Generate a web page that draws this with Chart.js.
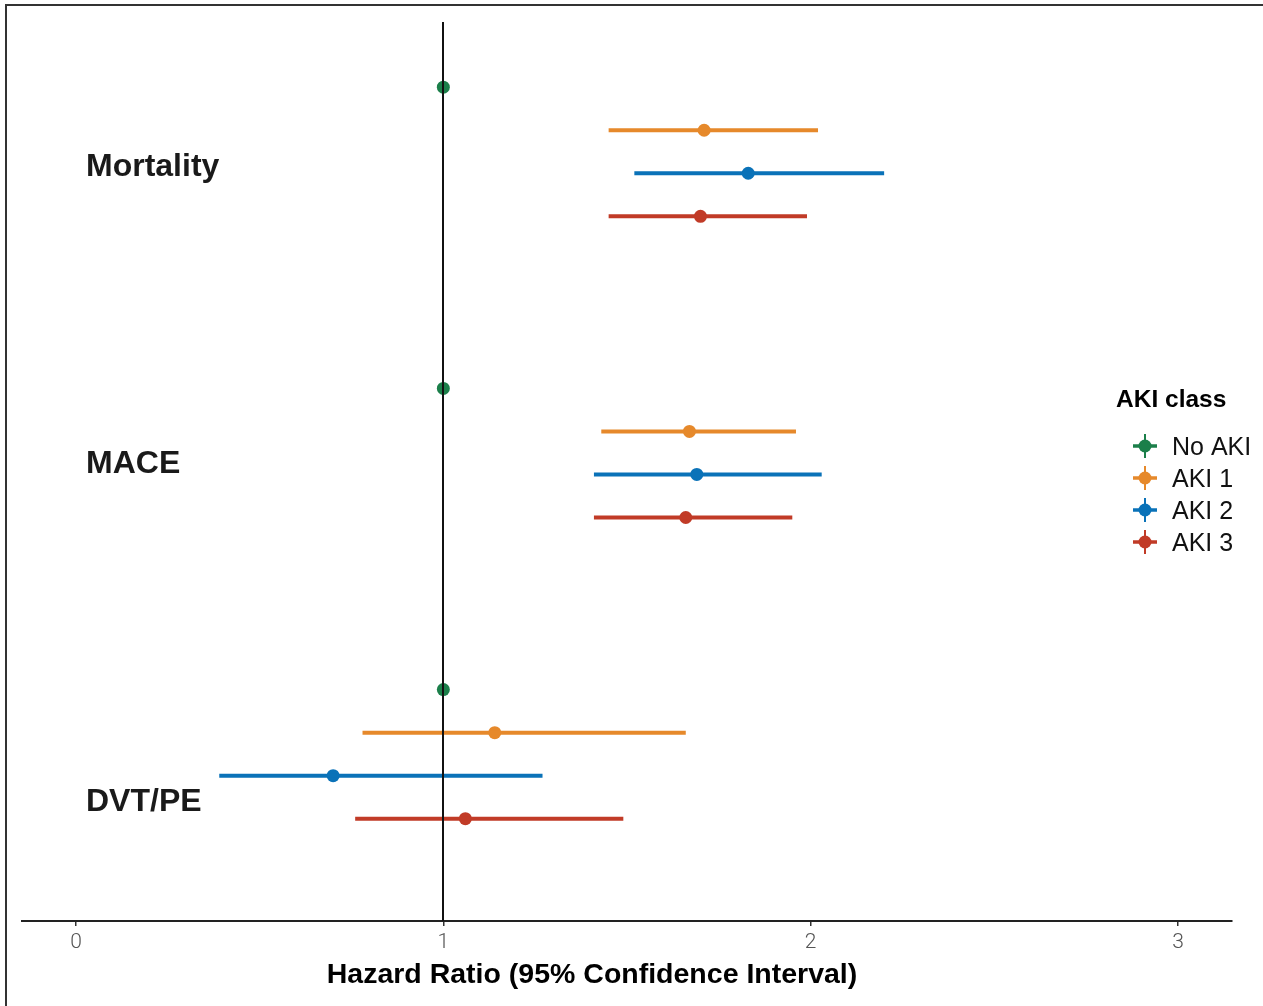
<!DOCTYPE html>
<html>
<head>
<meta charset="utf-8">
<script src="https://cdn.jsdelivr.net/npm/chart.js@4/dist/chart.umd.min.js"></script>
<style>
  html, body { margin: 0; padding: 0; background: #fff; overflow: hidden; }
  #wrap { position: relative; width: 1263px; height: 1006px; }
  #frame {
    position: absolute; left: 5px; top: 4px; width: 1300px; height: 1100px;
    border: 2px solid #333; pointer-events: none;
  }
</style>
</head>
<body>
<div id="wrap">
  <canvas id="forest" width="1263" height="1006"></canvas>
  <div id="frame"></div>
</div>
<script>
const outcomes = ["Mortality", "MACE", "DVT/PE"];
const classes = ["No AKI", "AKI 1", "AKI 2", "AKI 3"];
const classColors = ["#1b7f4a", "#e6892b", "#0a72b8", "#c13b27"];

// hazard ratios and 95% CI per class, one value per outcome
const hrNoAki = [1.0, 1.0, 1.0];
const loNoAki = [1.0, 1.0, 1.0];
const hiNoAki = [1.0, 1.0, 1.0];

const hrAki1 = [1.71, 1.67, 1.14];
const loAki1 = [1.45, 1.43, 0.78];
const hiAki1 = [2.02, 1.96, 1.66];

const hrAki2 = [1.83, 1.69, 0.70];
const loAki2 = [1.52, 1.41, 0.39];
const hiAki2 = [2.20, 2.03, 1.27];

const hrAki3 = [1.70, 1.66, 1.06];
const loAki3 = [1.45, 1.41, 0.76];
const hiAki3 = [1.99, 1.95, 1.49];

const xTicks = [0, 1, 2, 3];
const refLine = 1;

const hrAll = [hrNoAki, hrAki1, hrAki2, hrAki3];
const loAll = [loNoAki, loAki1, loAki2, loAki3];
const hiAll = [hiNoAki, hiAki1, hiAki2, hiAki3];

// rows: each outcome block is 7 rows apart, classes dodge by one row
const rowOf = (g, k) => g * 7 + k;
const labelRows = [1.85, 8.76, 16.61];

const datasets = [];
classes.forEach((name, k) => {
  const seg = [];
  outcomes.forEach((o, g) => {
    seg.push({ x: loAll[k][g], y: rowOf(g, k) });
    seg.push({ x: hiAll[k][g], y: rowOf(g, k) });
    seg.push({ x: NaN, y: NaN });
  });
  datasets.push({
    label: name + " CI",
    data: seg,
    showLine: true,
    spanGaps: false,
    borderColor: classColors[k],
    borderWidth: 4,
    pointRadius: 0,
    borderCapStyle: "butt",
  });
  datasets.push({
    label: name,
    data: outcomes.map((o, g) => ({ x: hrAll[k][g], y: rowOf(g, k) })),
    pointRadius: 6.5,
    pointBackgroundColor: classColors[k],
    pointBorderWidth: 0,
  });
});

const forestExtras = {
  id: "forestExtras",
  afterDatasetsDraw(chart) {
    const { ctx, chartArea, scales } = chart;
    const x = scales.x, y = scales.y;
    ctx.save();

    // reference line at HR = 1
    const rx = Math.round(x.getPixelForValue(refLine));
    ctx.strokeStyle = "#111";
    ctx.lineWidth = 2;
    ctx.beginPath();
    ctx.moveTo(rx, chartArea.top);
    ctx.lineTo(rx, chartArea.bottom);
    ctx.stroke();

    // outcome labels
    ctx.fillStyle = "#1a1a1a";
    ctx.font = "bold 32px 'Liberation Sans', Arial, sans-serif";
    ctx.textAlign = "left";
    ctx.textBaseline = "middle";
    outcomes.forEach((o, g) => {
      ctx.fillText(o, 86, y.getPixelForValue(labelRows[g]));
    });

    // x axis title
    ctx.fillStyle = "#000";
    ctx.font = "bold 28.5px 'Liberation Sans', Arial, sans-serif";
    ctx.textAlign = "center";
    ctx.fillText("Hazard Ratio (95% Confidence Interval)", 592, 975);

    // legend
    ctx.textAlign = "left";
    ctx.font = "bold 24.5px 'Liberation Sans', Arial, sans-serif";
    ctx.fillText("AKI class", 1116, 400);
    ctx.font = "25px 'Liberation Sans', Arial, sans-serif";
    classes.forEach((name, k) => {
      const cy = 446 + k * 32;
      const cx = 1145;
      ctx.strokeStyle = classColors[k];
      ctx.lineWidth = 3.5;
      ctx.beginPath();
      ctx.moveTo(cx - 12, cy);
      ctx.lineTo(cx + 12, cy);
      ctx.stroke();
      ctx.lineWidth = 2;
      ctx.beginPath();
      ctx.moveTo(cx, cy - 12);
      ctx.lineTo(cx, cy + 12);
      ctx.stroke();
      ctx.fillStyle = classColors[k];
      ctx.beginPath();
      ctx.arc(cx, cy, 6.5, 0, Math.PI * 2);
      ctx.fill();
      ctx.fillStyle = "#111";
      ctx.fillText(name, 1172, cy + 2);
    });
    ctx.restore();
  },
};

new Chart(document.getElementById("forest"), {
  type: "scatter",
  data: { datasets },
  options: {
    responsive: false,
    animation: false,
    layout: { padding: { top: 22, left: 22, right: 31, bottom: 0 } },
    scales: {
      x: {
        type: "linear",
        min: -0.147,
        max: 3.147,
        afterBuildTicks: (scale) => {
          scale.ticks = xTicks.map((v) => ({ value: v }));
        },
        afterFit: (scale) => {
          scale.height = 85;
        },
        grid: {
          drawOnChartArea: false,
          drawTicks: true,
          tickLength: 5,
          color: "#333",
          lineWidth: 1.5,
        },
        border: { display: true, color: "#222", width: 2 },
        ticks: {
          color: "#555",
          padding: 4,
          font: { family: "Roboto, 'Liberation Sans', sans-serif", size: 21, weight: 300 },
        },
      },
      y: {
        type: "linear",
        reverse: true,
        min: -1.515,
        max: 19.377,
        display: false,
      },
    },
    plugins: {
      legend: { display: false },
      tooltip: { enabled: false },
    },
  },
  plugins: [forestExtras],
});
</script>
</body>
</html>
